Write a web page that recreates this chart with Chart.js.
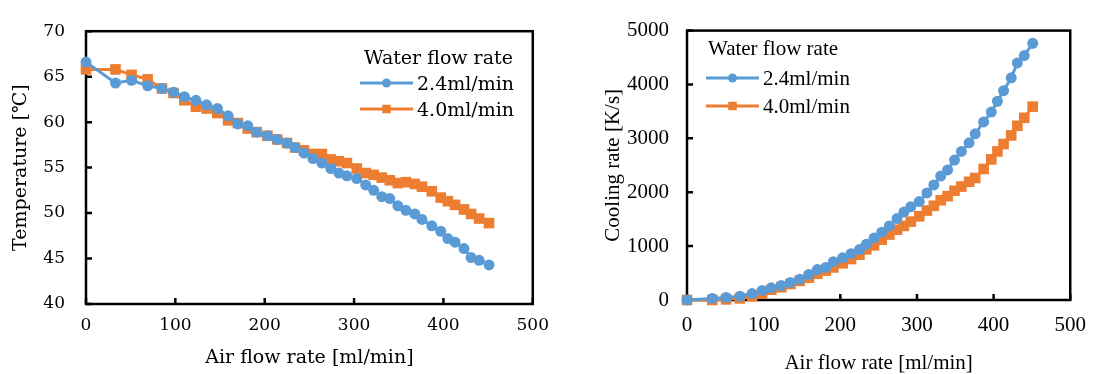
<!DOCTYPE html>
<html><head><meta charset="utf-8">
<script src="https://cdn.jsdelivr.net/npm/chart.js@4.4.1/dist/chart.umd.min.js"></script>
<style>
html,body{margin:0;padding:0;background:#fff;width:1099px;height:374px;overflow:hidden}
#c1{position:absolute;left:0;top:0}
#c2{position:absolute;left:560px;top:0}
</style></head><body>
<canvas id="c1" width="560" height="374"></canvas>
<canvas id="c2" width="539" height="374"></canvas>
<script>
// ---- data ----
const airFlow = [0,33,51,69,85,98,110,123,135,147,159,170,181,191,203,214,225,234,244,254,264,274,283,292,303,313,322,331,340,349,358,368,376,387,397,405,413,423,431,440,451];
const temp24 = [66.6,64.3,64.6,64.0,63.7,63.3,62.8,62.4,61.9,61.5,60.7,59.8,59.6,58.9,58.5,58.1,57.7,57.2,56.6,56.0,55.5,54.9,54.4,54.1,53.8,53.1,52.5,51.8,51.6,50.8,50.3,49.9,49.3,48.6,48.0,47.2,46.8,46.1,45.1,44.8,44.3];
const temp40 = [65.8,65.8,65.2,64.7,63.7,63.2,62.4,61.7,61.5,61.0,60.2,59.9,59.3,58.9,58.5,58.1,57.7,57.2,56.9,56.5,56.5,55.9,55.7,55.5,54.9,54.4,54.2,53.9,53.6,53.3,53.4,53.2,52.9,52.4,51.7,51.3,50.9,50.4,49.9,49.4,48.9];
const cool24 = [0,30,48,71,119,178,226,267,326,386,475,564,605,712,783,860,935,1037,1150,1258,1375,1512,1632,1731,1827,1988,2135,2301,2415,2598,2758,2918,3084,3304,3488,3689,3885,4123,4400,4537,4763];
const cool40 = [0,0,12,30,71,119,190,237,297,356,415,486,546,605,682,760,842,940,1015,1120,1215,1304,1375,1454,1553,1660,1749,1851,1927,2028,2105,2194,2265,2432,2610,2758,2895,3055,3233,3381,3589];
const seriesNames = ['2.4ml/min','4.0ml/min'];
const legendTitle = 'Water flow rate';
const xTicks = [0,100,200,300,400,500];
const tempTicks = [40,45,50,55,60,65,70];
const coolTicks = [0,1000,2000,3000,4000,5000];
const xTitle = 'Air flow rate [ml/min]';
const tempTitle = 'Temperature [℃]';
const coolTitle = 'Cooling rate [K/s]';

const BLUE = '#5B9BD5', ORANGE = '#ED7D31';
const pts = arr => airFlow.map((x,i)=>({x:x, y:arr[i]}));

function marker(ctx, style, x, y, r, color){
  ctx.fillStyle = color;
  ctx.beginPath();
  if(style==='circle'){ ctx.arc(x,y,r,0,Math.PI*2); }
  else { const s=r*Math.SQRT1_2; ctx.rect(x-s,y-s,2*s,2*s); }
  ctx.fill();
}

function deco(L){
  return {
    id:'deco',
    beforeDatasetsDraw(chart){
      const {ctx, chartArea:a, scales:{x,y}} = chart;
      ctx.save();
      ctx.strokeStyle='#000'; ctx.lineWidth=L.lw;
      ctx.beginPath();
      x.ticks.forEach(t=>{const p=x.getPixelForValue(t.value); ctx.moveTo(p,a.bottom); ctx.lineTo(p,a.bottom-L.tl);});
      y.ticks.forEach(t=>{const p=y.getPixelForValue(t.value); ctx.moveTo(a.left,p); ctx.lineTo(a.left+L.tl,p);});
      ctx.stroke();
      ctx.strokeRect(a.left,a.top,a.right-a.left,a.bottom-a.top);
      ctx.restore();
    },
    afterDraw(chart){
      const ctx = chart.ctx;
      ctx.save();
      ctx.font = L.font; ctx.fillStyle='#000'; ctx.textBaseline='alphabetic'; ctx.textAlign='left';
      ctx.fillText(legendTitle, L.titleX, L.titleY);
      chart.data.datasets.forEach((ds,i)=>{
        const yy = L.rowY[i];
        ctx.strokeStyle = ds.borderColor; ctx.lineWidth = ds.borderWidth;
        ctx.beginPath(); ctx.moveTo(L.lineX0,yy); ctx.lineTo(L.lineX1,yy); ctx.stroke();
        marker(ctx, ds.pointStyle, (L.lineX0+L.lineX1)/2, yy, L.mr[i], ds.borderColor);
        ctx.fillStyle='#000';
        ctx.fillText(ds.label, L.textX, yy + L.textDy);
      });
      ctx.restore();
    }
  };
}

function ds(label, arr, color, style, r){
  return {label, data:pts(arr), borderColor:color, backgroundColor:color, borderWidth:3,
    pointStyle:style, pointRadius:r, pointBorderWidth:0, pointBackgroundColor:color,
    tension:0, clip:false};
}
const plain = v => String(v);

// ---- left chart ----
const F1 = "'DejaVu Serif','DejaVu Sans',serif";
new Chart(document.getElementById('c1'), {
  type:'line',
  data:{datasets:[ds(seriesNames[0],temp24,BLUE,'circle',5.5), ds(seriesNames[1],temp40,ORANGE,'rect',7.5)]},
  options:{
    responsive:false, animation:false, devicePixelRatio:1,
    layout:{padding:{left:0,right:25,top:23,bottom:0}},
    plugins:{legend:{display:false}, tooltip:{enabled:false}},
    scales:{
      x:{type:'linear', min:xTicks[0], max:xTicks[xTicks.length-1],
        afterBuildTicks(s){ s.ticks = xTicks.map(v=>({value:v})); },
        ticks:{padding:11, color:'#000', font:{family:F1,size:17}, maxRotation:0, autoSkip:false, callback:plain},
        grid:{display:false, drawTicks:false}, border:{display:false},
        title:{display:true, text:xTitle, color:'#000', font:{family:F1,size:19}, padding:{top:0,bottom:5}},
        afterFit(s){ s.height = 70; }},
      y:{type:'linear', min:tempTicks[0], max:tempTicks[tempTicks.length-1],
        afterBuildTicks(s){ s.ticks = tempTicks.map(v=>({value:v})); },
        ticks:{padding:21, color:'#000', font:{family:F1,size:17}, callback:plain},
        grid:{display:false, drawTicks:false}, border:{display:false},
        title:{display:true, text:tempTitle, color:'#000', font:{family:F1,size:19}, padding:{top:10,bottom:0}},
        afterFit(s){ s.width = 86; }}
    }
  },
  plugins:[deco({lw:2.5, tl:6, font:"19px "+F1, titleX:364, titleY:64, rowY:[83,109], lineX0:360, lineX1:413, textX:417, textDy:7, mr:[4.5,6]})]
});

// ---- right chart ----
const F2 = "'Liberation Serif','Times New Roman',serif";
new Chart(document.getElementById('c2'), {
  type:'line',
  data:{datasets:[ds(seriesNames[0],cool24,BLUE,'circle',5.5), ds(seriesNames[1],cool40,ORANGE,'rect',7.5)]},
  options:{
    responsive:false, animation:false, devicePixelRatio:1,
    layout:{padding:{left:0,right:18,top:19,bottom:0}},
    plugins:{legend:{display:false}, tooltip:{enabled:false}},
    scales:{
      x:{type:'linear', min:xTicks[0], max:xTicks[xTicks.length-1],
        afterBuildTicks(s){ s.ticks = xTicks.map(v=>({value:v})); },
        ticks:{padding:13, color:'#000', font:{family:F2,size:21}, maxRotation:0, autoSkip:false, callback:plain},
        grid:{display:false, drawTicks:false}, border:{display:false},
        title:{display:true, text:xTitle, color:'#000', font:{family:F2,size:21}, padding:{top:0,bottom:-2}},
        afterFit(s){ s.height = 74; }},
      y:{type:'linear', min:coolTicks[0], max:coolTicks[coolTicks.length-1],
        afterBuildTicks(s){ s.ticks = coolTicks.map(v=>({value:v})); },
        ticks:{padding:18, color:'#000', font:{family:F2,size:21}, callback:plain},
        grid:{display:false, drawTicks:false}, border:{display:false},
        title:{display:true, text:coolTitle, color:'#000', font:{family:F2,size:21}, padding:{top:41,bottom:0}},
        afterFit(s){ s.width = 127; }}
    }
  },
  plugins:[deco({lw:2.5, tl:6, font:"21px "+F2, titleX:148, titleY:55, rowY:[78,106], lineX0:146, lineX1:199, textX:203, textDy:6.5, mr:[4.5,6]})]
});
</script>
</body></html>
